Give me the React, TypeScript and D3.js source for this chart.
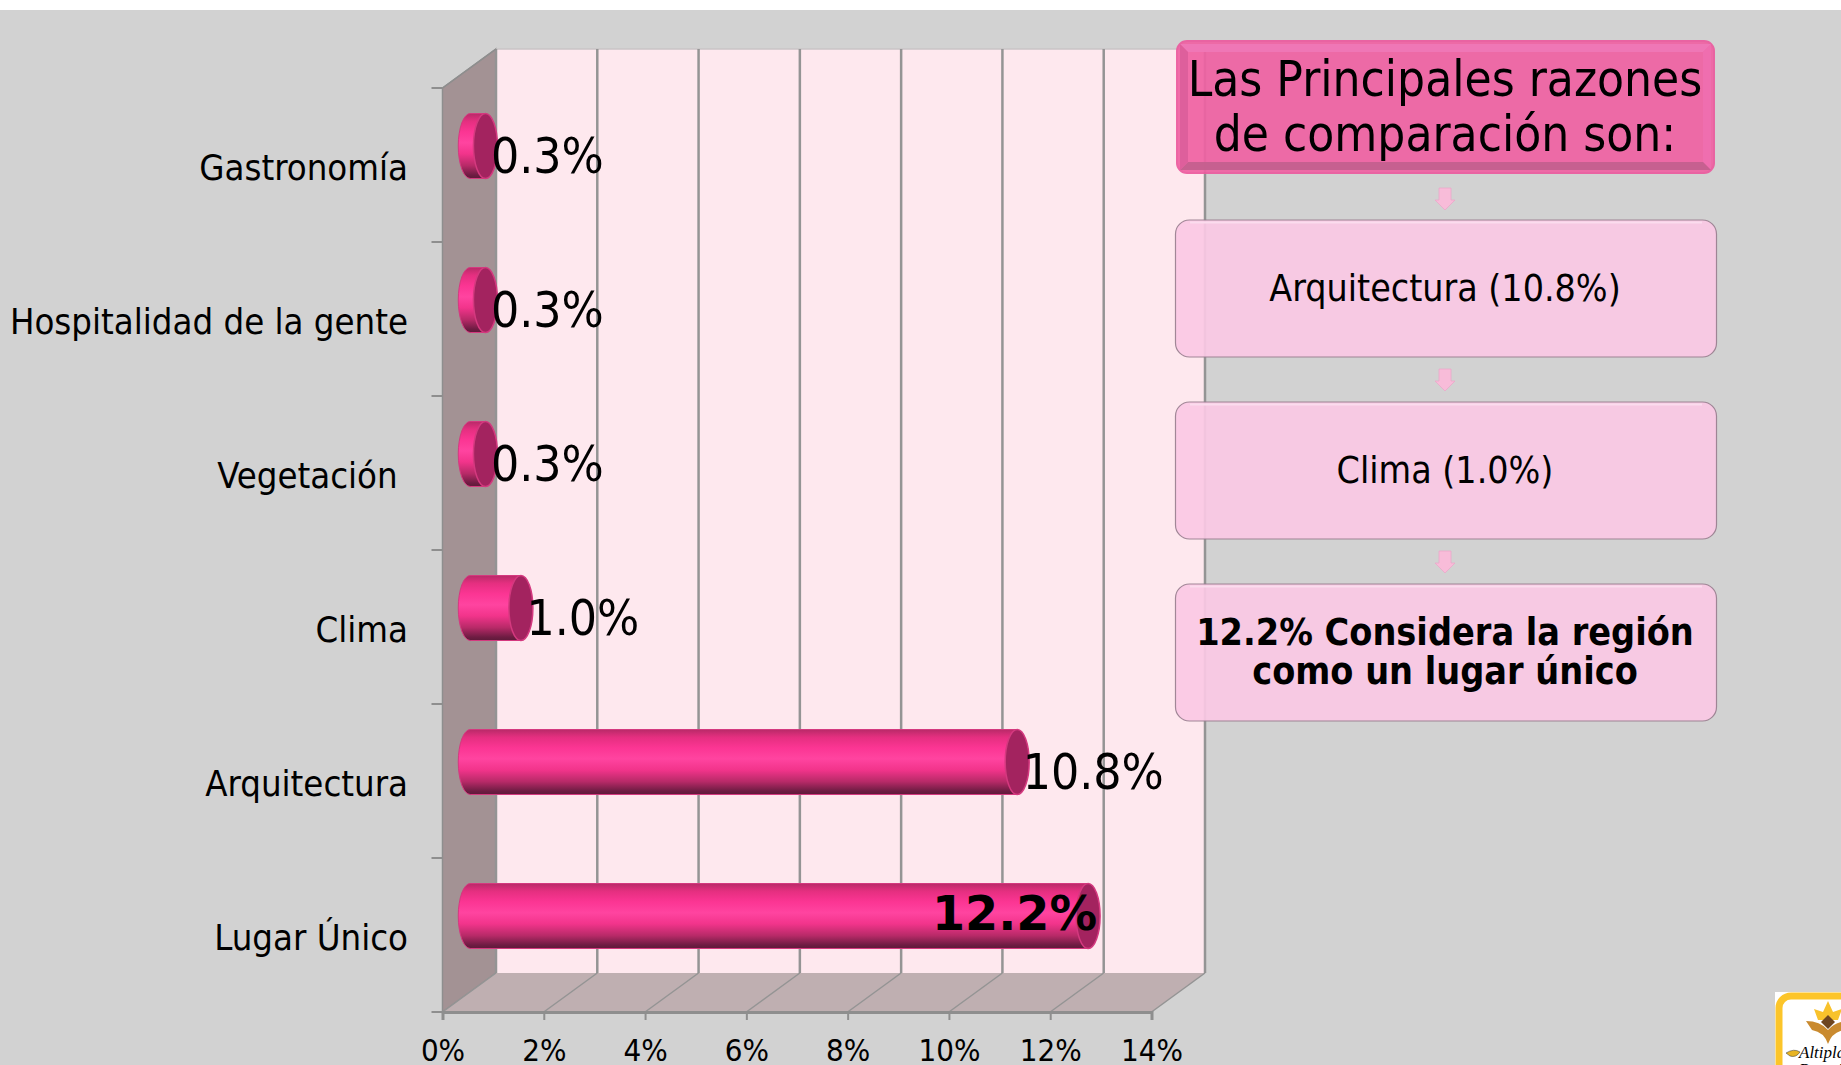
import React, { useRef, useEffect } from 'react';
import * as d3 from 'd3';

// chart values, top to bottom
const categories = ['Gastronomía', 'Hospitalidad de la gente', 'Vegetación ', 'Clima', 'Arquitectura', 'Lugar Único'];
const values = [0.3, 0.3, 0.3, 1.0, 10.8, 12.2];
const valueLabels = ['0.3%', '0.3%', '0.3%', '1.0%', '10.8%', '12.2%'];
const xTicks = [0, 2, 4, 6, 8, 10, 12, 14];

// side panel
const headerLines = ['Las Principales razones', 'de comparación son:'];
const boxLines = [['Arquitectura (10.8%)'], ['Clima (1.0%)'], ['12.2% Considera la región', 'como un lugar único']];

const FONT = '"DejaVu Sans Condensed", "DejaVu Sans", sans-serif';

const App = () => {
  const svgRef = useRef<SVGSVGElement>(null);

  useEffect(() => {
    if (!svgRef.current) return;
    const svg = d3.select(svgRef.current);
    svg.selectAll('*').remove();

    // front plane of the 3D box, and how far the back wall is shifted
    const left = 442.5, right = 1151.5, top = 88, bottom = 1012;
    const depthX = 53.5, depthY = -39;

    const x = d3.scaleLinear().domain([0, 14]).range([left, right]);
    const y = d3.scaleBand().domain(categories).range([top, bottom]).paddingInner(0);

    const defs = svg.append('defs');
    const barGrad = defs.append('linearGradient').attr('id', 'bar').attr('x1', 0).attr('y1', 0).attr('x2', 0).attr('y2', 1);
    [[0, '#b92a68'], [0.12, '#e52f80'], [0.28, '#fb3593'], [0.45, '#ff44a0'], [0.62, '#f2348b'], [0.8, '#b82a68'], [0.95, '#6d1c42'], [1, '#5e1a3a']]
      .forEach(([o, c]) => barGrad.append('stop').attr('offset', o as number).attr('stop-color', c as string));

    // page
    svg.append('rect').attr('width', 1841).attr('height', 1065).attr('fill', '#ffffff');
    svg.append('rect').attr('y', 10).attr('width', 1841).attr('height', 1055).attr('fill', '#d2d2d2');

    // walls
    const pts = (p: number[][]) => p.map(d => d.join(',')).join(' ');
    svg.append('polygon')
      .attr('points', pts([[left, top], [left + depthX, top + depthY], [left + depthX, bottom + depthY], [left, bottom]]))
      .attr('fill', '#a39294').attr('stroke', '#8e8e8e').attr('stroke-width', 1.5);
    svg.append('polygon')
      .attr('points', pts([[left, bottom], [left + depthX, bottom + depthY], [right + depthX, bottom + depthY], [right, bottom]]))
      .attr('fill', '#bfafb1');
    svg.append('rect')
      .attr('x', left + depthX).attr('y', top + depthY)
      .attr('width', right - left).attr('height', bottom - top)
      .attr('fill', '#fee8ee');
    svg.append('line')
      .attr('x1', left + depthX).attr('x2', right + depthX)
      .attr('y1', top + depthY).attr('y2', top + depthY)
      .attr('stroke', '#c9c4c6').attr('stroke-width', 1.5);

    // gridlines on back wall and floor
    xTicks.forEach(t => {
      const bx = x(t) + depthX;
      svg.append('line')
        .attr('x1', bx).attr('x2', bx).attr('y1', top + depthY).attr('y2', bottom + depthY)
        .attr('stroke', '#949494').attr('stroke-width', 2.5);
      svg.append('line')
        .attr('x1', x(t)).attr('x2', bx).attr('y1', bottom).attr('y2', bottom + depthY)
        .attr('stroke', '#949494').attr('stroke-width', 1.5);
    });
    svg.append('line')
      .attr('x1', left).attr('x2', left + depthX).attr('y1', top).attr('y2', top + depthY)
      .attr('stroke', '#8e8e8e').attr('stroke-width', 1.5);

    // axes
    const xAxis = d3.axisBottom(x).tickValues(xTicks).tickSize(8).tickPadding(20).tickFormat(d => `${d}%`);
    const gx = svg.append('g').attr('transform', `translate(0,${bottom})`).call(xAxis);
    gx.select('.domain').attr('stroke', '#8e8e8e').attr('stroke-width', 3);
    gx.selectAll('.tick line').attr('stroke', '#8e8e8e').attr('stroke-width', 2);
    gx.selectAll('.tick text')
      .attr('font-family', FONT).attr('font-size', 31).attr('fill', '#000').attr('y', 49).attr('dy', 0);

    // category ticks sit on band boundaries
    const boundaries = [...categories.map(c => y(c) as number), bottom];
    svg.selectAll('.cat-tick').data(boundaries).join('line')
      .attr('class', 'cat-tick')
      .attr('x1', left - 11).attr('x2', left).attr('y1', d => d).attr('y2', d => d)
      .attr('stroke', '#8e8e8e').attr('stroke-width', 2);

    svg.selectAll('.cat-label').data(categories).join('text')
      .attr('class', 'cat-label')
      .attr('x', 408)
      .attr('y', d => (y(d) as number) + y.bandwidth() / 2 + 14.5)
      .attr('text-anchor', 'end')
      .style('white-space', 'pre')
      .attr('font-family', FONT).attr('font-size', 36.2).attr('fill', '#000')
      .text(d => d);

    // cylinders
    const barH = 65;
    const ry = barH / 2, rx = 12;
    const barY = (c: string) => (y(c) as number) + y.bandwidth() / 2 + depthY / 2 + 0.5;
    const barX = (v: number) => x(v) + depthX / 2 + 1;
    categories.forEach((c, i) => {
      const cy = barY(c);
      const x0 = barX(0);
      const x1 = barX(values[i]);
      const g = svg.append('g');
      g.append('path')
        .attr('d', `M${x0},${cy - ry} L${x1},${cy - ry} L${x1},${cy + ry} L${x0},${cy + ry} A${rx},${ry} 0 0 1 ${x0},${cy - ry} Z`)
        .attr('fill', 'url(#bar)').attr('stroke', '#d4397f').attr('stroke-width', 1);
      g.append('ellipse')
        .attr('cx', x1).attr('cy', cy).attr('rx', rx).attr('ry', ry)
        .attr('fill', '#a3235f').attr('stroke', '#d4397f').attr('stroke-width', 1.5);
    });

    // value labels, the last one is bold and sits inside its bar
    categories.forEach((c, i) => {
      const cy = barY(c);
      const xEnd = barX(values[i]) + rx;
      const last = i === categories.length - 1;
      svg.append('text')
        .attr('x', last ? xEnd - 3 : xEnd - 6.5)
        .attr('y', cy + (last ? 14 : 27))
        .attr('text-anchor', last ? 'end' : 'start')
        .attr('font-family', last ? '"DejaVu Sans", sans-serif' : FONT)
        .attr('font-size', last ? 47.6 : 49.4)
        .attr('font-weight', last ? 700 : 400)
        .attr('fill', '#000')
        .text(valueLabels[i]);
    });

    // side panel
    const panelX = 1445;
    const hx = 1177, hy = 41, hw = 537, hh = 132, bevel = 11;
    const head = svg.append('g');
    head.append('rect').attr('x', hx).attr('y', hy).attr('width', hw).attr('height', hh).attr('rx', 10)
      .attr('fill', '#f062a3').attr('stroke', '#ec5a9e').attr('stroke-width', 2).attr('opacity', 0.92);
    const inner = [[hx + bevel, hy + bevel], [hx + hw - bevel, hy + bevel], [hx + hw - bevel, hy + hh - bevel], [hx + bevel, hy + hh - bevel]];
    // bevel strips around the header
    head.append('polygon').attr('points', pts([[hx + 3, hy + 3], [hx + hw - 3, hy + 3], inner[1], inner[0]])).attr('fill', '#ef78b6').attr('opacity', 0.95);
    head.append('polygon').attr('points', pts([[hx + hw - 3, hy + 3], [hx + hw - 3, hy + hh - 3], inner[2], inner[1]])).attr('fill', '#ee6fb0').attr('opacity', 0.9);
    head.append('polygon').attr('points', pts([[hx + 3, hy + hh - 3], [hx + hw - 3, hy + hh - 3], inner[2], inner[3]])).attr('fill', '#c4608e').attr('opacity', 0.95);
    head.append('polygon').attr('points', pts([[hx + 3, hy + 3], [hx + 3, hy + hh - 3], inner[3], inner[0]])).attr('fill', '#dc5e9a').attr('opacity', 0.9);
    headerLines.forEach((t, i) => {
      head.append('text').attr('x', panelX).attr('y', 96 + i * 55).attr('text-anchor', 'middle')
        .attr('font-family', FONT).attr('font-size', 49.1).attr('fill', '#000').text(t);
    });

    const boxTops = [220, 402, 584];
    const arrowTops = [188, 369, 551];
    arrowTops.forEach(a => {
      svg.append('polygon')
        .attr('points', pts([[panelX - 6, a], [panelX + 6, a], [panelX + 6, a + 12], [panelX + 10, a + 12], [panelX, a + 22], [panelX - 10, a + 12], [panelX - 6, a + 12]]))
        .attr('fill', '#f8bcd9').attr('stroke', '#e9a7c8').attr('stroke-width', 0.75);
    });
    boxLines.forEach((lines, i) => {
      const bt = boxTops[i];
      svg.append('rect').attr('x', 1175.5).attr('y', bt).attr('width', 541).attr('height', 137).attr('rx', 14)
        .attr('fill', '#fbc9e5').attr('opacity', 0.92).attr('stroke', '#9a7f90').attr('stroke-width', 1.2);
      svg.append('line').attr('x1', 1190).attr('x2', 1702).attr('y1', bt + 2.5).attr('y2', bt + 2.5)
        .attr('stroke', '#fbdcee').attr('stroke-width', 2);
      const bold = lines.length > 1;
      lines.forEach((t, j) => {
        svg.append('text').attr('x', panelX)
          .attr('y', bold ? bt + 61 + j * 39 : bt + 81)
          .attr('text-anchor', 'middle')
          .attr('font-family', FONT).attr('font-size', bold ? 37.4 : 37.2)
          .attr('font-weight', bold ? 700 : 400)
          .attr('fill', '#000').text(t);
      });
    });

    // logo in the corner, cut by the page edge
    const logo = svg.append('g');
    logo.append('rect').attr('x', 1775).attr('y', 992).attr('width', 90).attr('height', 90).attr('fill', '#ffffff');
    logo.append('rect').attr('x', 1779).attr('y', 996).attr('width', 90).attr('height', 90).attr('rx', 12)
      .attr('fill', '#ffffff').attr('stroke', '#fcc52a').attr('stroke-width', 7);
    logo.append('polygon')
      .attr('points', pts([[1828, 1001], [1833, 1012], [1842, 1009], [1838, 1020], [1818, 1020], [1814, 1009], [1823, 1012]]))
      .attr('fill', '#f8c22c');
    logo.append('path').attr('d', 'M1806,1021 Q1820,1021 1828,1030 Q1836,1021 1850,1021 L1844,1030 Q1832,1032 1828,1044 Q1824,1032 1812,1030 Z')
      .attr('fill', '#c98a2f');
    logo.append('polygon')
      .attr('points', pts([[1828, 1015], [1835, 1022], [1828, 1029], [1821, 1022]]))
      .attr('fill', '#6e4520');
    logo.append('path').attr('d', 'M1786,1053 Q1794,1048 1800,1052 Q1796,1058 1790,1056 Z').attr('fill', '#e8b422').attr('stroke', '#333').attr('stroke-width', 0.5);
    logo.append('text').attr('x', 1799).attr('y', 1058)
      .attr('font-family', '"Liberation Serif", serif').attr('font-style', 'italic').attr('font-size', 17).attr('fill', '#000')
      .text('Altiplano');
    logo.append('text').attr('x', 1799).attr('y', 1075)
      .attr('font-family', '"Liberation Serif", serif').attr('font-style', 'italic').attr('font-size', 17).attr('fill', '#000')
      .text('Potosino');
  }, []);

  return (
    <svg
      ref={svgRef}
      width={1841}
      height={1065}
      style={{ position: 'absolute', left: 0, top: 0, display: 'block' }}
    />
  );
};

export default App;
